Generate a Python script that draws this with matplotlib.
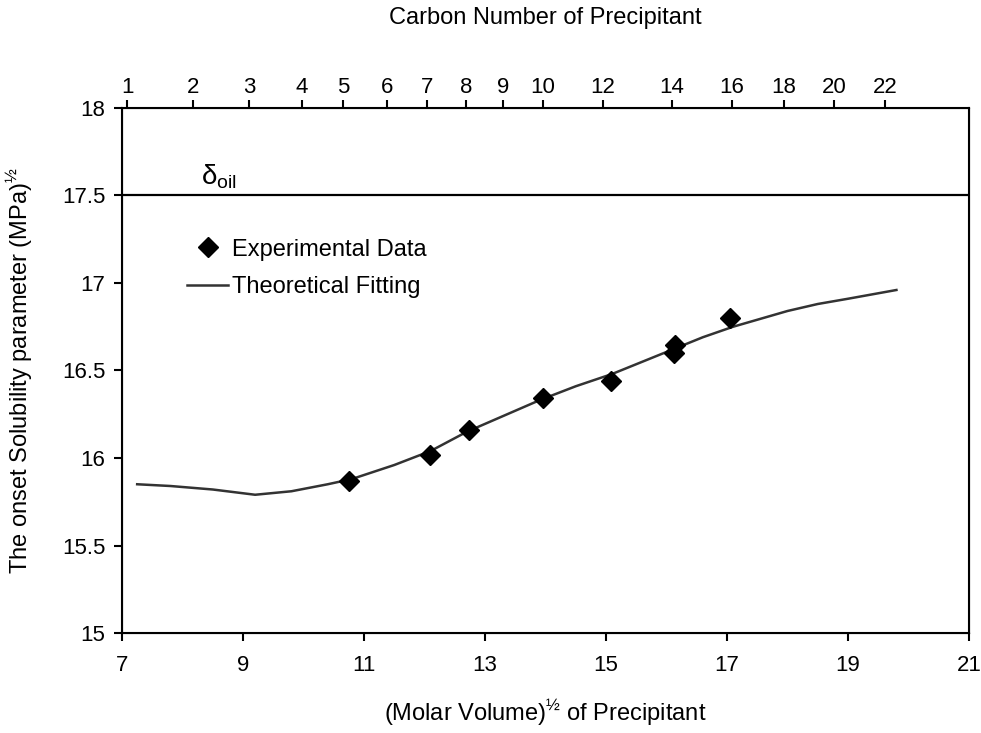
import numpy as np
import matplotlib.pyplot as plt

plt.rcParams['font.family'] = ['Liberation Sans', 'DejaVu Sans']
plt.rcParams['mathtext.fontset'] = 'custom'
plt.rcParams['mathtext.rm'] = 'Liberation Sans'
plt.rcParams['mathtext.it'] = 'Liberation Sans:italic'

# experimental points: (molar volume)^1/2 vs onset solubility parameter
exp_x = [10.75, 12.09, 12.73, 13.96, 15.09, 16.13, 16.14, 17.05]
exp_y = [15.87, 16.02, 16.16, 16.34, 16.44, 16.60, 16.645, 16.80]

# theoretical fitting curve
fit_x = [7.25, 7.8, 8.5, 9.2, 9.8, 10.4, 10.8, 11.5, 12.1, 12.7, 13.3, 13.9,
         14.5, 15.1, 15.6, 16.1, 16.6, 17.1, 17.6, 18.0, 18.5, 19.0, 19.4, 19.8]
fit_y = [15.85, 15.84, 15.82, 15.79, 15.81, 15.85, 15.88, 15.96, 16.04, 16.15,
         16.24, 16.33, 16.41, 16.48, 16.55, 16.62, 16.69, 16.75, 16.80, 16.84,
         16.88, 16.91, 16.935, 16.96]

delta_oil = 17.5

# top axis: carbon number at the matching molar volume position
carbon_pos = [7.09, 8.17, 9.10, 9.975, 10.65, 11.38, 12.04, 12.69, 13.30, 13.95,
              14.95, 16.09, 17.08, 17.94, 18.77, 19.61]
carbon_lbl = ['1', '2', '3', '4', '5', '6', '7', '8', '9', '10',
              '12', '14', '16', '18', '20', '22']

fig = plt.figure(figsize=(9.81, 7.33), dpi=100)
ax = fig.add_axes([0.1244, 0.1364, 0.8634, 0.7163])

ax.plot(fit_x, fit_y, color='#333333', lw=1.8, label='Theoretical Fitting', zorder=2)
ax.plot(exp_x, exp_y, 'D', color='black', ms=10, ls='none',
        label='Experimental Data', zorder=3)
ax.axhline(delta_oil, color='black', lw=1.6)
ax.text(8.3, 17.56, r'δ$_{\rm oil}$', fontsize=20)

ax.set_xlim(7, 21)
ax.set_ylim(15, 18)
ax.set_xticks(np.arange(7, 22, 2))
ax.set_yticks(np.arange(15, 18.01, 0.5))
ax.set_yticklabels(['15', '15.5', '16', '16.5', '17', '17.5', '18'])
ax.tick_params(axis='both', direction='out', length=6, width=1.5, labelsize=16)
ax.tick_params(axis='x', pad=10)
ax.tick_params(axis='y', pad=6)
for sp in ax.spines.values():
    sp.set_linewidth(1.5)

ax.set_xlabel(r'(Molar Volume)$^{½}$ of Precipitant', fontsize=17, labelpad=15)
ax.set_ylabel(r'The onset Solubility parameter (MPa)$^{½}$', fontsize=17)
ax.yaxis.set_label_coords(-0.104, 0.5)

ax2 = ax.twiny()
ax2.set_xlim(ax.get_xlim())
ax2.set_xticks(carbon_pos)
ax2.set_xticklabels(carbon_lbl)
ax2.tick_params(axis='x', direction='out', length=6, width=1.5, labelsize=16, pad=1)
ax2.set_xlabel('Carbon Number of Precipitant', fontsize=17, labelpad=38)

handles, labels = ax.get_legend_handles_labels()
ax.legend(handles[::-1], labels[::-1], loc='upper left', bbox_to_anchor=(0.0656, 0.769),
          frameon=False, fontsize=17, handlelength=1.75, handletextpad=0.15,
          labelspacing=0.65, borderaxespad=0)

fig.savefig('out.png', dpi=100)
